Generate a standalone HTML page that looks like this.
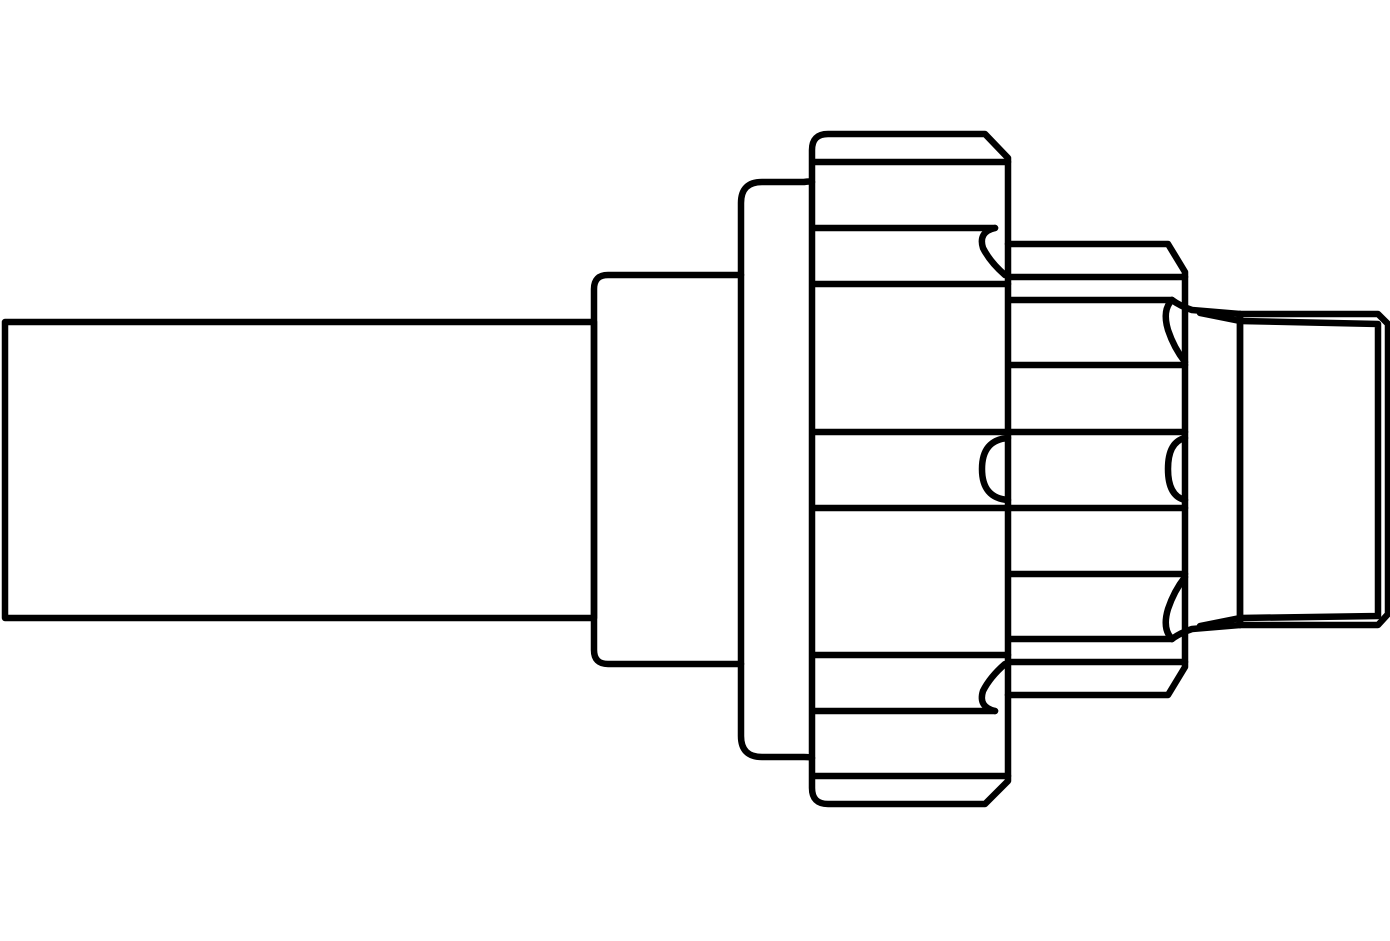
<!DOCTYPE html>
<html><head><meta charset="utf-8"><style>
html,body{margin:0;padding:0;background:#fff;}
svg{display:block;}
</style></head><body>
<svg width="1390" height="941" viewBox="0 0 1390 941" xmlns="http://www.w3.org/2000/svg">
<g fill="none" stroke="#000" stroke-width="6.5" stroke-linejoin="round" stroke-linecap="round">
<rect x="5" y="322" width="589" height="296"/>
<path d="M741,275 H608 Q594,275 594,289 V650 Q594,664 608,664 H741"/>
<path d="M812,182 Q810,181 804,182 H762 Q741,182 741,203 V736 Q741,757 762,757 H804 Q810,757 812,758"/>
<path d="M812,150 Q812,134 828,134 H985 L1008,158 V781 L985,804 H828 Q812,804 812,788 Z"/>
<path d="M814,162 H1008 M814,228 H995 M814,284 H1008 M814,432 H1008 M814,508 H1008 M814,655 H1008 M814,711 H995 M814,776 H1008"/>
<!-- nut scallops -->
<path d="M995,228 Q978,232 983,248 Q990,262 1005,275"/>
<path d="M995,711 Q978,707 983,691 Q990,677 1005,664"/>
<path d="M1008,438 Q982,440 982,469 Q982,498 1008,500"/>
<!-- second hex -->
<path d="M1008,244 H1168 L1185,272 V667 L1168,695 H1008"/>
<path d="M1010,277 H1185 M1010,300 H1172 M1010,365 H1185 M1010,432 H1185 M1010,508 H1185 M1010,574 H1185 M1010,639 H1172 M1010,662 H1185"/>
<!-- second hex scallops -->
<path d="M1172,300 Q1162,310 1168,330 Q1174,348 1185,362"/>
<path d="M1172,639 Q1162,629 1168,609 Q1174,591 1185,577"/>
<path d="M1185,438 Q1168,442 1168,469 Q1168,496 1185,500"/>
<!-- taper -->
<path d="M1172,300 Q1180,306 1192,310 L1240,314"/>
<path d="M1172,639 Q1180,633 1192,629 L1240,625"/>
<path d="M1200,313 L1240,321 M1200,626 L1240,618"/>
<!-- thread -->
<path d="M1240,314 H1378 L1388,324 V614 L1378,625 H1240 Z"/>
<path d="M1240,321 L1378,324 V616 L1240,618"/>
<path d="M1240,314 V625"/>
</g>
</svg>
</body></html>
